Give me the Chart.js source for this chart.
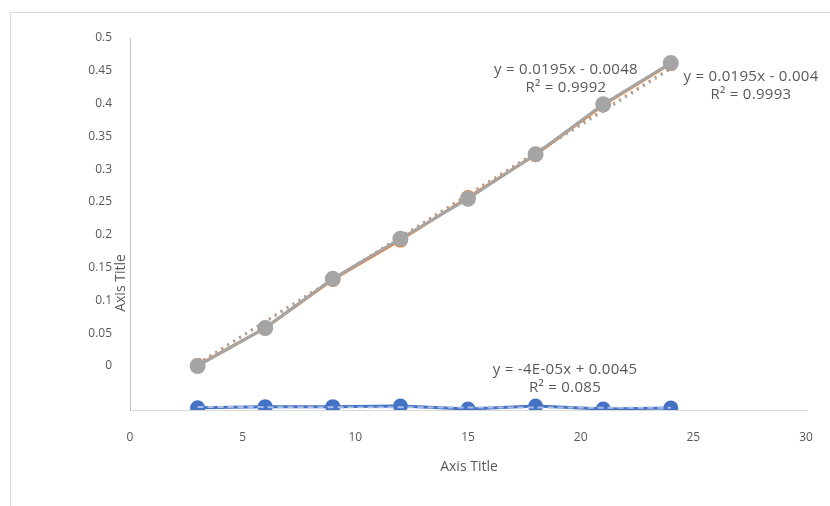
<!DOCTYPE html>
<html>
<head>
<meta charset="utf-8">
<script src="https://cdn.jsdelivr.net/npm/chart.js@4.4.0/dist/chart.umd.min.js"></script>
<style>
  html, body { margin: 0; padding: 0; background: #fff; }
  #wrap { position: relative; width: 830px; height: 506px; }
  #frame { position: absolute; left: 10px; top: 12px; width: 830px; height: 500px;
           border-left: 1px solid #d9d9d9; border-top: 1px solid #d9d9d9; }
  canvas { position: absolute; left: 0; top: 0; }
</style>
</head>
<body>
<div id="wrap">
  <div id="frame"></div>
  <canvas id="chart" width="830" height="506"></canvas>
</div>
<script>
// valores
const xValues = [3, 6, 9, 12, 15, 18, 21, 24];
const graySeries = [0.0, 0.058, 0.133, 0.194, 0.255, 0.323, 0.399, 0.462];
const orangeSeries = [0.001, 0.058, 0.132, 0.192, 0.257, 0.322, 0.398, 0.461];
const blueSeries = [0.0030, 0.0045, 0.0045, 0.0054, 0.0013, 0.0054, 0.0013, 0.0027];

// linhas de tendência (extremos)
const trendX = [3, 24];
const grayTrend = [0.003, 0.453];
const orangeTrend = [0.004, 0.455];
const blueTrend = [0.0040, 0.0030];

const yTicks = [0, 0.05, 0.1, 0.15, 0.2, 0.25, 0.3, 0.35, 0.4, 0.45, 0.5];
const trendLabels = [
    ['y = 0.0195x - 0.0048', 'R² = 0.9992'],
    ['y = 0.0195x - 0.004', 'R² = 0.9993'],
    ['y = -4E-05x + 0.0045', 'R² = 0.085']
];

const pts = (xs, ys) => xs.map((x, i) => ({ x: x, y: ys[i] }));
const FONT = "'Open Sans', sans-serif";
const TXT = '#595959';

const labelsPlugin = {
    id: 'labels',
    afterDraw(chart) {
        const c = chart.ctx;
        c.save();
        c.fillStyle = TXT;
        c.textAlign = 'center';
        c.textBaseline = 'middle';
        c.font = '15px ' + FONT;
        c.letterSpacing = '0.3px';
        const pos = [[566, 70], [751, 77], [565, 370]];
        trendLabels.forEach((l, i) => {
            c.fillText(l[0], pos[i][0], pos[i][1]);
            c.fillText(l[1], pos[i][0], pos[i][1] + 18);
        });
        c.letterSpacing = '0px';
        c.font = '14px ' + FONT;
        // título do eixo X
        c.fillText('Axis Title', 469, 467);
        // título do eixo Y (colado ao eixo, como no Excel)
        c.translate(121, 283);
        c.rotate(-Math.PI / 2);
        c.fillText('Axis Title', 0, 0);
        c.restore();
    }
};

new Chart(document.getElementById('chart'), {
    type: 'scatter',
    data: {
        datasets: [
            {
                label: 'Series3',
                data: pts(xValues, graySeries),
                showLine: true,
                borderColor: '#A5A5A5',
                backgroundColor: '#A5A5A5',
                borderWidth: 3,
                pointRadius: 6.5,
                order: 1
            },
            {
                label: 'Trend3',
                data: pts(trendX, grayTrend),
                showLine: true,
                borderColor: '#A5A5A5',
                borderWidth: 3,
                borderDash: [2, 5],
                pointRadius: 0,
                order: 2
            },
            {
                label: 'Series2',
                data: pts(xValues, orangeSeries),
                showLine: true,
                borderColor: '#ED7D31',
                backgroundColor: '#ED7D31',
                borderWidth: 3,
                pointRadius: 6,
                order: 3
            },
            {
                label: 'Trend2',
                data: pts(trendX, orangeTrend),
                showLine: true,
                borderColor: '#ED7D31',
                borderWidth: 2,
                borderDash: [2, 5],
                pointRadius: 0,
                order: 4
            },
            {
                label: 'Trend1',
                data: pts(trendX, blueTrend),
                showLine: true,
                yAxisID: 'y2',
                borderColor: '#a9bde6',
                borderWidth: 2,
                borderDash: [6, 4],
                pointRadius: 0,
                order: 5
            },
            {
                label: 'Series1',
                data: pts(xValues, blueSeries),
                showLine: true,
                yAxisID: 'y2',
                borderColor: '#4472C4',
                backgroundColor: '#4472C4',
                borderWidth: 3,
                pointRadius: 6,
                order: 6
            }
        ]
    },
    options: {
        responsive: false,
        animation: false,
        layout: { padding: { left: 0, top: 38, right: 24, bottom: 0 } },
        plugins: {
            legend: { display: false },
            tooltip: { enabled: false }
        },
        scales: {
            x: {
                type: 'linear',
                min: 0,
                max: 30,
                afterFit: (s) => { s.height = 96; s.paddingLeft = 0; s.paddingRight = 0; },
                ticks: { stepSize: 5, padding: 20, color: TXT, font: { family: FONT, size: 12 } },
                grid: { display: false, drawTicks: false },
                border: { display: true, color: '#d9d9d9', width: 1 }
            },
            y: {
                min: -0.067,
                max: 0.5,
                afterBuildTicks: (s) => { s.ticks = yTicks.map(v => ({ value: v })); },
                afterFit: (s) => { s.width = 130; },
                ticks: {
                    padding: 18,
                    color: TXT,
                    font: { family: FONT, size: 12 },
                    callback: (v) => String(v)
                },
                grid: { display: false, drawTicks: false },
                border: { display: true, color: '#bfbfbf', width: 1 }
            },
            y2: {
                display: false,
                min: 0,
                max: 0.5
            }
        }
    },
    plugins: [labelsPlugin]
});
</script>
</body>
</html>
